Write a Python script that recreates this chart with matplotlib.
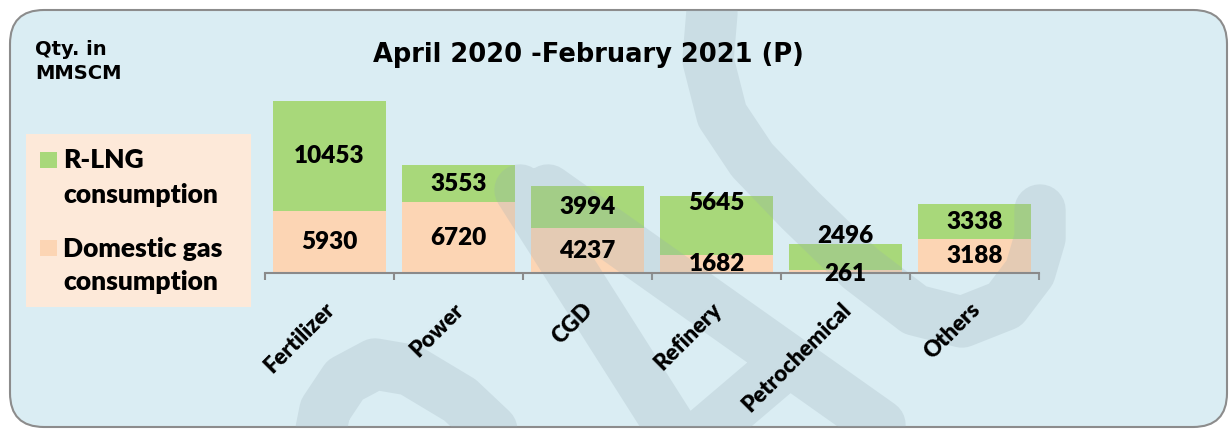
import matplotlib
matplotlib.use("Agg")
import matplotlib.pyplot as plt
from matplotlib import font_manager as fm
from matplotlib.patches import FancyBboxPatch, Rectangle, PathPatch
from matplotlib.path import Path
from matplotlib.transforms import Affine2D

categories = ["Fertilizer", "Power", "CGD", "Refinery", "Petrochemical", "Others"]
domestic = [5930, 6720, 4237, 1682, 261, 3188]
rlng = [10453, 3553, 3994, 5645, 2496, 3338]

title = "April 2020 -February 2021 (P)"
unit_label = "Qty. in\nMMSCM"

GREEN = "#a8d87a"
PEACH = "#fcd5b4"


def has_bold(name):
    for f in fm.fontManager.ttflist:
        if f.name != name or f.style != "normal":
            continue
        w = f.weight if isinstance(f.weight, int) else fm.weight_dict.get(f.weight, 400)
        if w >= 600:
            return True
    return False


# a Calibri-like face that really has a bold cut
FONT = next((n for n in ["Lato", "Open Sans", "Roboto", "Noto Sans", "Inter", "Liberation Sans"]
             if has_bold(n)), "DejaVu Sans")
WEIGHT = 800

W, H = 1229, 429
fig = plt.figure(figsize=(W / 100, H / 100), dpi=100)
fig.patch.set_facecolor("white")
# pixel coords, y measured from the top
px = Affine2D().scale(1 / W, -1 / H).translate(0, 1) + fig.transFigure

box = FancyBboxPatch((10, 10), 1217, 417, boxstyle="round,pad=0,rounding_size=34",
                     transform=px, fc="#daedf3", ec="#8c8c8c", lw=1.5, zorder=-2)
fig.add_artist(box)

legend_bg = Rectangle((26, 134), 225, 173, transform=px, fc="#fde9d9", ec="none", zorder=-1)
fig.add_artist(legend_bg)

ax = fig.add_axes([265 / W, 1 - 273 / H, (1039 - 265) / W, 183 / H])
ax.patch.set_visible(False)

x = range(len(categories))
ax.bar(x, domestic, width=0.875, color=PEACH, zorder=2)
ax.bar(x, rlng, width=0.875, bottom=domestic, color=GREEN, zorder=2)
ax.set_xlim(-0.5, len(categories) - 0.5)
ax.set_ylim(0, 17400)

# watermark logo (semi-transparent bands)
strokes = [
    [(712, 12), (708, 60), (722, 115), (752, 160), (800, 210), (860, 268), (915, 310),
     (962, 322), (1005, 305), (1030, 272), (1040, 238), (1040, 210)],
    [(318, 445), (325, 410), (345, 380), (375, 364), (410, 370), (460, 400), (513, 450)],
    [(520, 190), (685, 450)],
    [(548, 190), (880, 425)],
    [(690, 445), (784, 365)],
]
verts, codes = [], []
for s in strokes:
    verts += s
    codes += [Path.MOVETO] + [Path.LINETO] * (len(s) - 1)
wm = PathPatch(Path(verts, codes), transform=px, fc="none", ec="#96aab4", alpha=0.23,
               lw=37, capstyle="round", joinstyle="round", zorder=2.5)
wm.set_clip_path(box)
ax.add_artist(wm)

# value labels
dom_dy = [0, 0, 0, 0, -2, 0]
rlng_dy = [0, 0, 0, 16, 15, 0]
for i in x:
    ax.annotate(f"{domestic[i]}", (i, domestic[i] / 2), xytext=(0, dom_dy[i]),
                textcoords="offset points", ha="center", va="center",
                fontsize=17.5, fontweight=WEIGHT, family=FONT, zorder=4)
    ax.annotate(f"{rlng[i]}", (i, domestic[i] + rlng[i] / 2), xytext=(0, rlng_dy[i]),
                textcoords="offset points", ha="center", va="center",
                fontsize=17.5, fontweight=WEIGHT, family=FONT, zorder=4)

# category axis
for side in ["left", "right", "top"]:
    ax.spines[side].set_visible(False)
ax.spines["bottom"].set_color("#8a8a8a")
ax.spines["bottom"].set_linewidth(1.5)
ax.set_yticks([])
ax.set_xticks([])
ax.set_xticks([i - 0.5 for i in range(len(categories) + 1)], minor=True)
ax.tick_params(axis="x", which="minor", direction="out", length=5, width=1.5,
               color="#8a8a8a", labelbottom=False)
for i, c in enumerate(categories):
    ax.annotate(c, (i, 0), xytext=(1.5, -24), textcoords="offset points",
                rotation=45, rotation_mode="anchor", ha="right", va="center",
                fontsize=16, fontweight=WEIGHT, family=FONT, annotation_clip=False, zorder=4)

fig.text(588 / W, 1 - 55 / H, title, ha="center", va="center",
         fontsize=18.5, fontweight="bold", family="DejaVu Sans")
fig.text(35 / W, 1 - 40 / H, unit_label, ha="left", va="top", linespacing=1.35,
         fontsize=14, fontweight="bold", family="DejaVu Sans")

# legend
fig.add_artist(Rectangle((40, 152), 17, 16, transform=px, fc=GREEN, ec="none"))
fig.add_artist(Rectangle((40, 240), 17, 16, transform=px, fc=PEACH, ec="none"))
for txt, yb in [("R-LNG", 168), ("consumption", 203), ("Domestic gas", 257), ("consumption", 290)]:
    fig.text(63 / W, 1 - yb / H, txt, ha="left", va="baseline",
             fontsize=19, fontweight=WEIGHT, family=FONT)

fig.savefig("out.png", dpi=100)
